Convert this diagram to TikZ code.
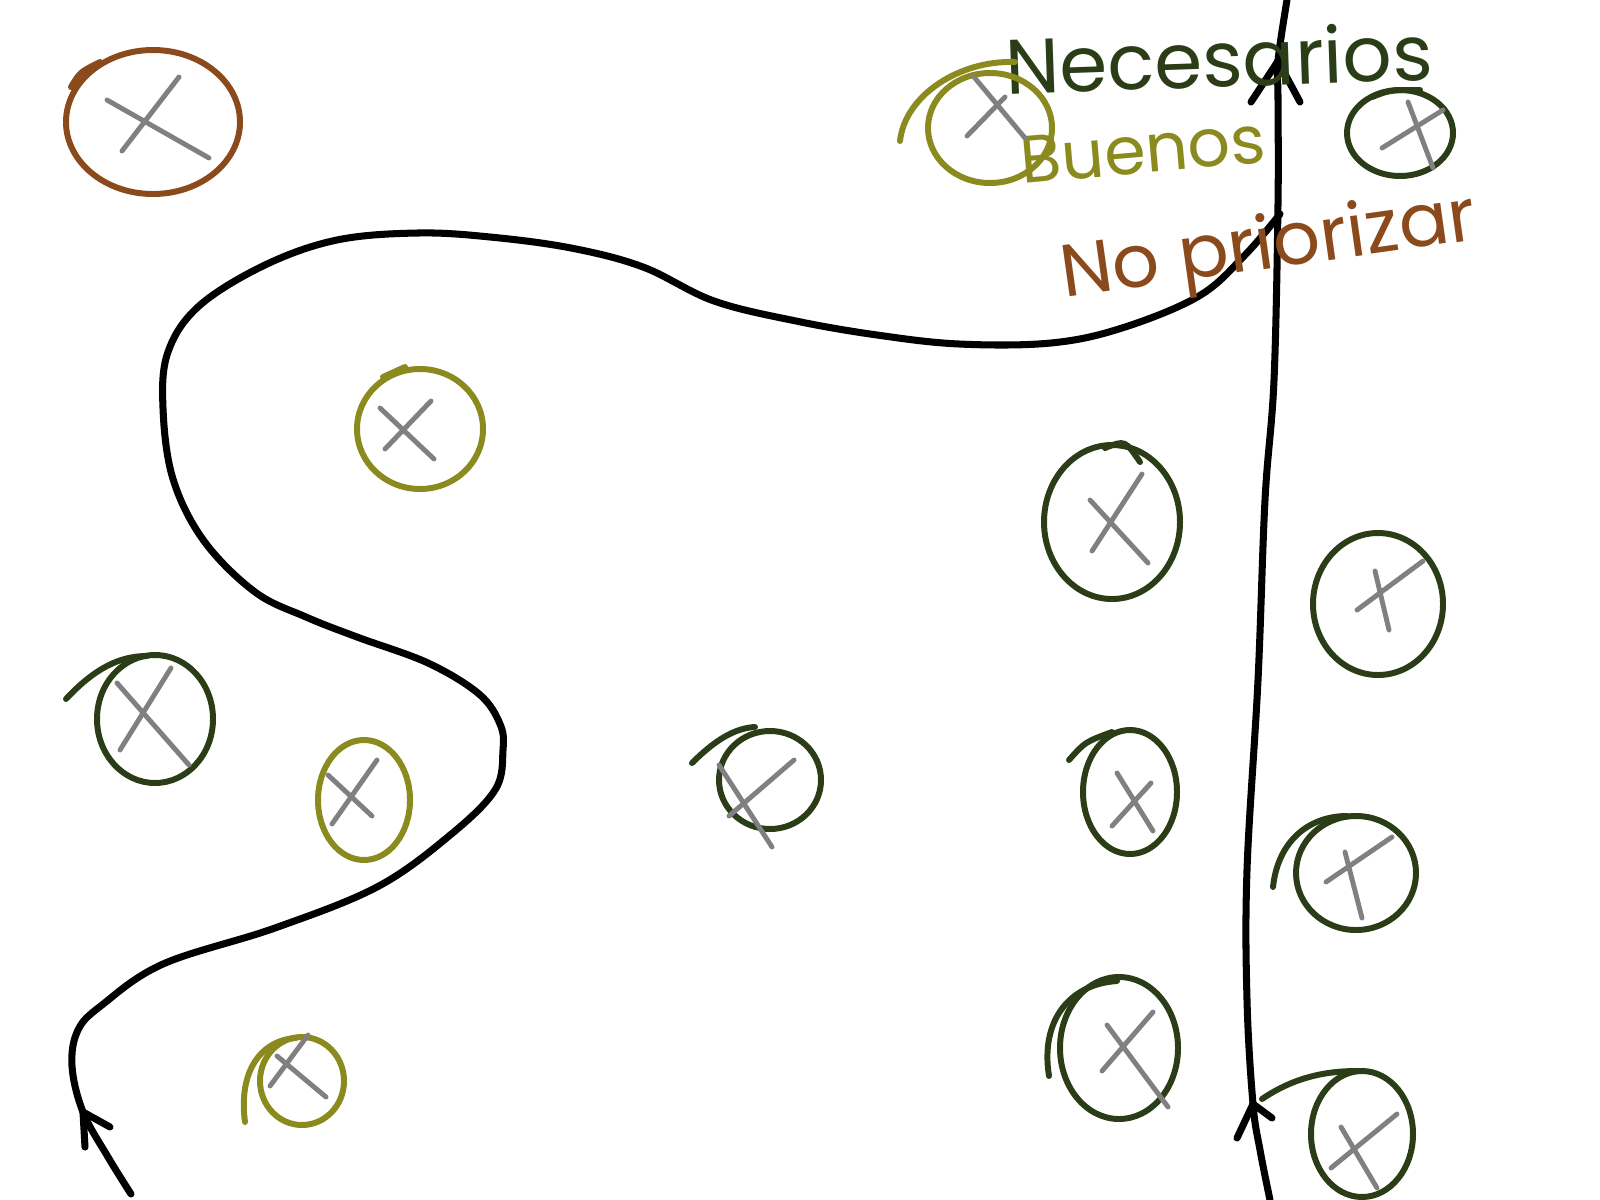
\documentclass[tikz,border=0pt]{standalone}
\usepackage{fontspec}
\newfontfamily\handfont{Poppins}
\definecolor{necgreen}{HTML}{2B3D17}
\definecolor{goodolive}{HTML}{8A8A1F}
\definecolor{lowbrown}{HTML}{8B4A1C}
\definecolor{crossgray}{HTML}{808080}

\begin{document}
\begin{tikzpicture}[x=0.01cm,y=-0.01cm,
    ring/.style={line width=1.7pt,line cap=round},
    crossline/.style={draw=crossgray,line width=1.4pt,line cap=round},
    route/.style={line width=2pt,line cap=round,line join=round}]
    \useasboundingbox (0,0) rectangle (1600,1200);

    % path that winds around the items
    \draw[route] plot[smooth,tension=0.6] coordinates {(131,1194) (108,1157) (83,1112) (72,1066) (78,1030) (102,1005) (163,964) (275,928) (377,887) (449,836) (495,790) (503,750) (500,724) (479,694) (428,663) (357,637) (306,617) (255,592) (204,541) (173,479) (163,408) (168,352) (199,306) (265,265) (337,240) (418,233) (490,237) (571,248) (643,267) (714,301) (796,321) (877,335) (959,344) (1051,343) (1122,328) (1199,296) (1245,255) (1280,214)};
    \draw[route] (83,1112) -- (85,1147);
    \draw[route] (83,1112) -- (110,1127);

    % vertical axis
    \draw[route] plot[smooth,tension=0.6] coordinates {(1270,1200) (1260,1150) (1253,1104) (1247,1000) (1247,870) (1258,680) (1265,500) (1274,380) (1278,204) (1278,100) (1278,61) (1287,0)};
    \draw[route] (1253,1104) -- (1237,1138);
    \draw[route] (1253,1104) -- (1272,1118);
    \draw[route] (1278,61) -- (1251,102);
    \draw[route] (1278,61) -- (1300,102);

    % labels
    \node[text=necgreen,rotate=2] (necesarios) at (1219,58) {\handfont\fontsize{22}{22}\selectfont Necesarios};
    \node[text=goodolive,rotate=5] (buenos) at (1143,150) {\handfont\fontsize{19}{19}\selectfont Buenos};
    \node[text=lowbrown,rotate=8] (nopriorizar) at (1269,250) {\handfont\fontsize{21}{21}\selectfont No priorizar};

    % brown item
    \draw[ring,lowbrown] (153,122) ellipse [x radius=87,y radius=72];
    \draw[ring,lowbrown] (71,87) .. controls (80,72) .. (100,62);
    \draw[crossline] (122,151) -- (179,77);
    \draw[crossline] (107,100) -- (209,158);

    % olive items
    \draw[ring,goodolive] (420,429) ellipse [x radius=63,y radius=60];
    \draw[ring,goodolive] (383,377) -- (405,367);
    \draw[crossline] (380,408) -- (434,459);
    \draw[crossline] (385,449) -- (431,401);

    \draw[ring,goodolive] (990,128) ellipse [x radius=62,y radius=55];
    \draw[ring,goodolive] (900,141) .. controls (905,95) and (960,60) .. (1015,62);
    \draw[crossline] (974,77) -- (1025,138);
    \draw[crossline] (967,136) -- (1005,97);

    \draw[ring,goodolive] (364,800) ellipse [x radius=46,y radius=60];
    \draw[crossline] (332,824) -- (377,760);
    \draw[crossline] (328,775) -- (372,816);

    \draw[ring,goodolive] (302,1081) ellipse [x radius=42,y radius=44];
    \draw[ring,goodolive] (245,1122) .. controls (238,1070) and (262,1040) .. (296,1038);
    \draw[crossline] (270,1086) -- (308,1035);
    \draw[crossline] (277,1056) -- (326,1097);

    % green items
    \draw[ring,necgreen] (1400,133) ellipse [x radius=53,y radius=43];
    \draw[ring,necgreen] (1372,97) .. controls (1390,90) .. (1420,90);
    \draw[crossline] (1382,148) -- (1443,110);
    \draw[crossline] (1408,102) -- (1433,168);

    \draw[ring,necgreen] (1112,522) ellipse [x radius=68,y radius=77];
    \draw[ring,necgreen] (1105,448) .. controls (1125,440) .. (1140,462);
    \draw[crossline] (1092,551) -- (1142,474);
    \draw[crossline] (1090,500) -- (1148,563);

    \draw[ring,necgreen] (1378,604) ellipse [x radius=65,y radius=71];
    \draw[crossline] (1357,610) -- (1423,561);
    \draw[crossline] (1375,571) -- (1389,630);

    \draw[ring,necgreen] (155,719) ellipse [x radius=58,y radius=64];
    \draw[ring,necgreen] (66,699) .. controls (95,668) and (120,656) .. (147,656);
    \draw[crossline] (120,750) -- (171,668);
    \draw[crossline] (117,683) -- (189,765);

    \draw[ring,necgreen] (770,780) ellipse [x radius=51,y radius=49];
    \draw[ring,necgreen] (692,763) .. controls (715,740) and (735,728) .. (755,727);
    \draw[crossline] (729,816) -- (794,760);
    \draw[crossline] (719,765) -- (772,847);

    \draw[ring,necgreen] (1130,792) ellipse [x radius=47,y radius=62];
    \draw[ring,necgreen] (1069,760) .. controls (1085,742) .. (1112,732);
    \draw[crossline] (1112,826) -- (1151,783);
    \draw[crossline] (1117,773) -- (1153,831);

    \draw[ring,necgreen] (1356,873) ellipse [x radius=60,y radius=57];
    \draw[ring,necgreen] (1273,887) .. controls (1278,840) and (1310,816) .. (1347,816);
    \draw[crossline] (1326,882) -- (1392,837);
    \draw[crossline] (1345,852) -- (1362,918);

    \draw[ring,necgreen] (1119,1048) ellipse [x radius=59,y radius=71];
    \draw[ring,necgreen] (1049,1076) .. controls (1040,1020) and (1070,984) .. (1117,981);
    \draw[crossline] (1102,1071) -- (1153,1012);
    \draw[crossline] (1107,1025) -- (1168,1107);

    \draw[ring,necgreen] (1362,1134) ellipse [x radius=51,y radius=63];
    \draw[ring,necgreen] (1262,1099) .. controls (1290,1080) and (1320,1071) .. (1357,1071);
    \draw[crossline] (1331,1168) -- (1397,1114);
    \draw[crossline] (1341,1127) -- (1377,1188);
\end{tikzpicture}
\end{document}
